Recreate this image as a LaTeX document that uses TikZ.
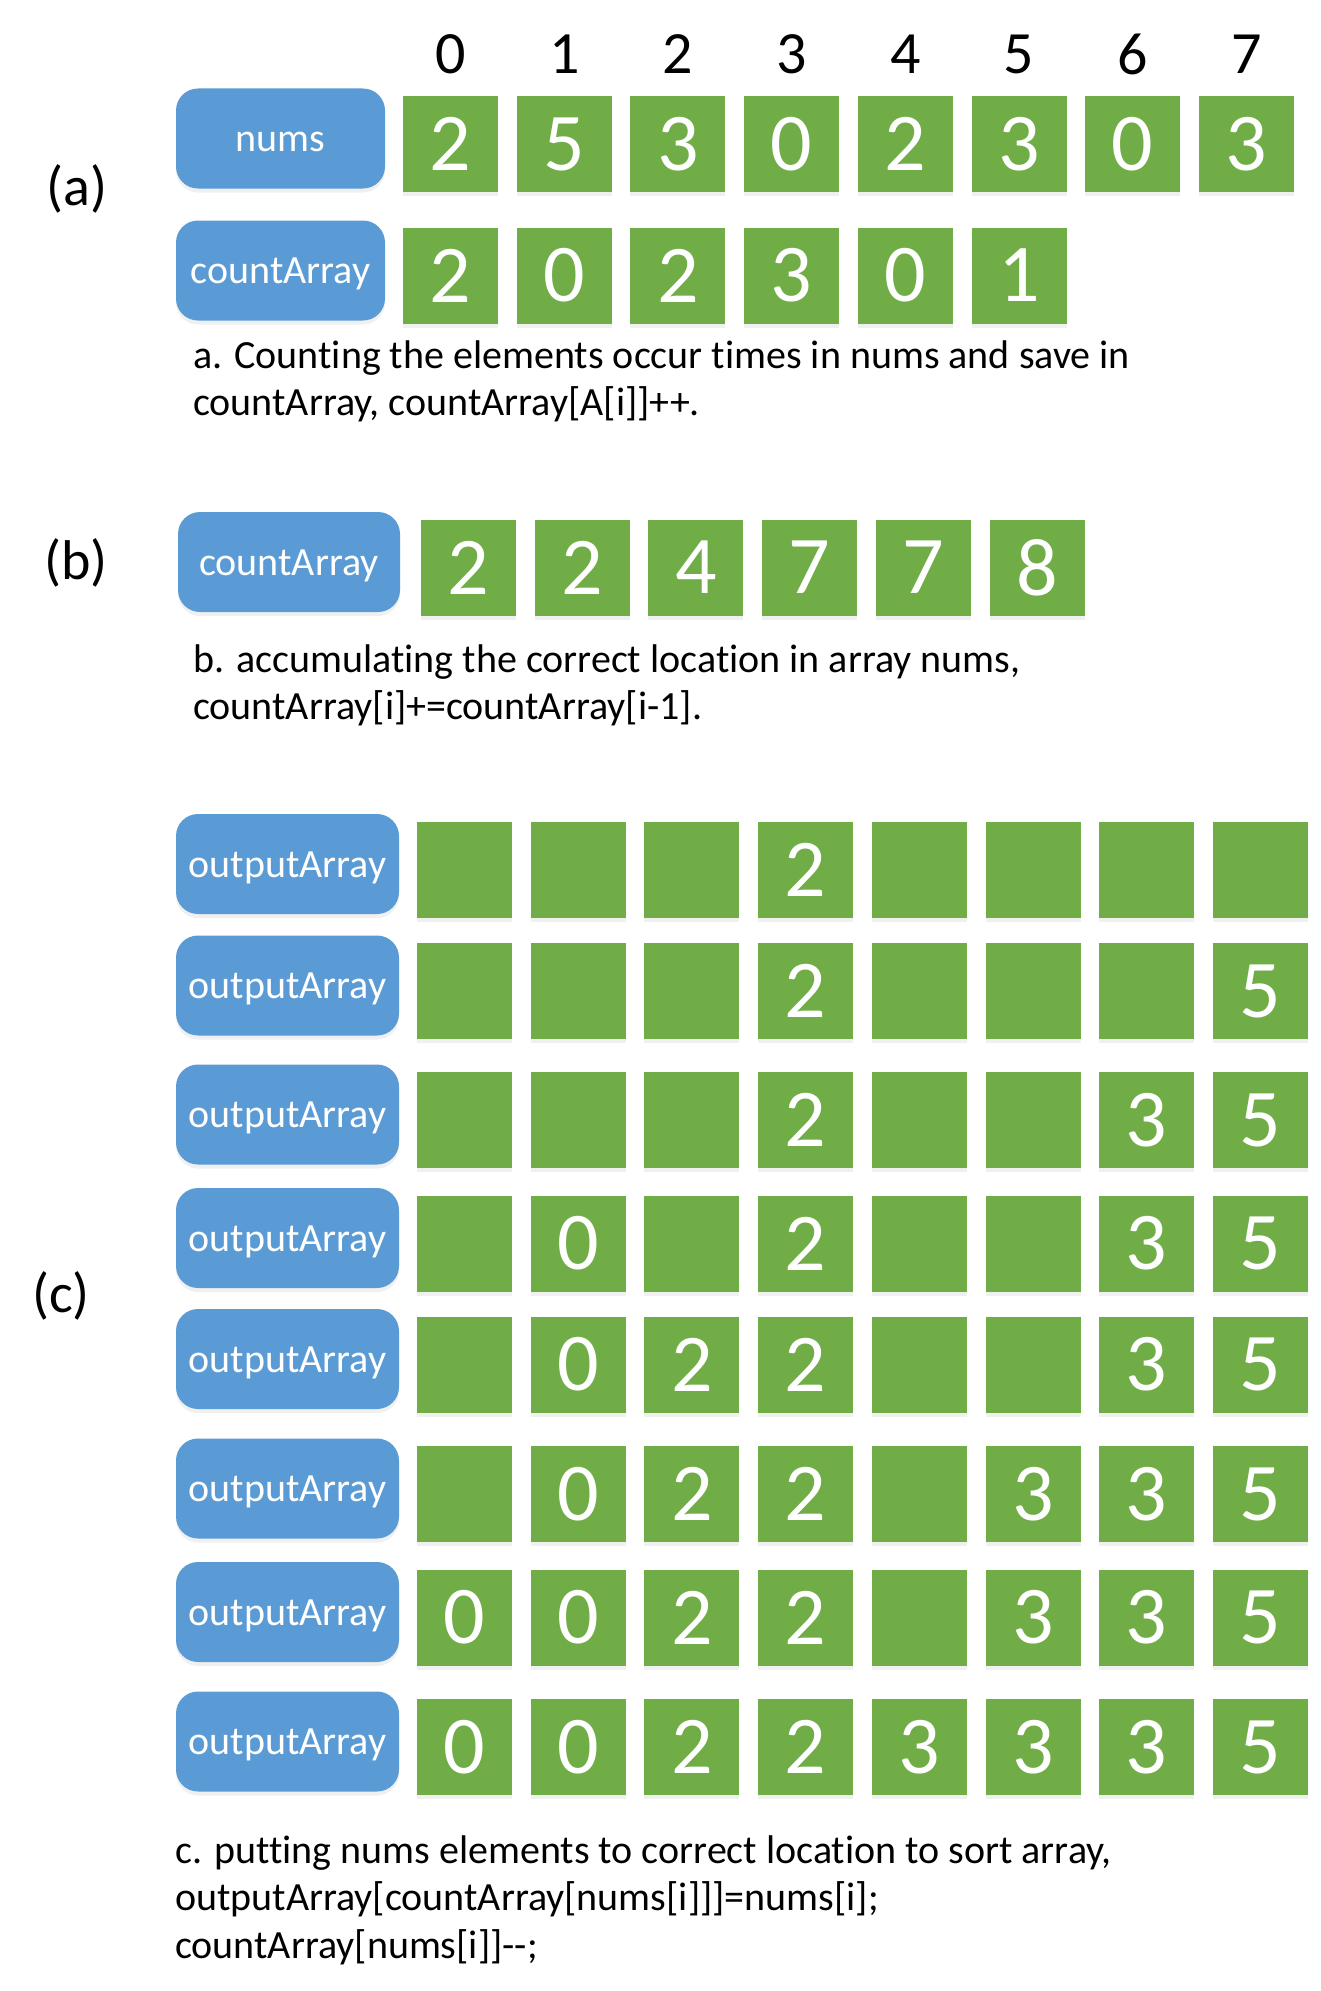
\documentclass[tikz,border=0pt]{standalone}
\usepackage{fontspec}
\setmainfont[Ligatures={TeX,NoCommon}]{Carlito}
\usetikzlibrary{shadows}

\definecolor{cellgreen}{HTML}{70AD47}
\definecolor{tagblue}{HTML}{5B9BD5}

% empty cells are written as x
\newcommand{\cellval}[1]{\if x#1\else#1\fi}

\tikzset{
    cell/.style={fill=cellgreen, minimum width=95pt, minimum height=96pt, inner sep=0pt,
        text=white, font=\fontsize{82}{82}\selectfont,
        drop shadow={opacity=0.12, shadow xshift=0pt, shadow yshift=-4pt}},
    tag/.style={fill=tagblue, rounded corners=22pt, minimum height=100pt, inner sep=0pt,
        text=white, text height=26pt, text depth=0pt, font=\fontsize{40}{48}\selectfont,
        drop shadow={opacity=0.12, shadow xshift=0pt, shadow yshift=-4pt}},
    note/.style={anchor=base west, inner sep=0pt, font=\fontsize{40}{48}\selectfont},
    part/.style={font=\fontsize{56}{60}\selectfont},
    index/.style={font=\fontsize{60}{60}\selectfont}
}

\begin{document}
\begin{tikzpicture}[x=1pt, y=-1pt]

    \useasboundingbox (0,0) rectangle (1321,1991);

    % (a) counting
    \node[part] (partA) at (77,189) {(a)};
    \node[tag, minimum width=209pt] (numsTag) at (280.5,138.5) {nums};
    \node[tag, minimum width=209pt] (countTagA) at (280.5,270.5) {countArray};

    \foreach \v [count=\i from 0] in {2,5,3,0,2,3,0,3} {
        \node[index] (idx-\i) at (450.5+113.7*\i, 54) {\i};
        \node[cell] (nums-\i) at (450.5+113.7*\i, 144) {\v};
    }
    \foreach \v [count=\i from 0] in {2,0,2,3,0,1} {
        \node[cell] (countA-\i) at (450.5+113.7*\i, 275.5) {\v};
    }

    \node[note] (noteA1) at (193,368) {a. Counting the elements occur times in nums and save in};
    \node[note] (noteA2) at (193,415) {countArray, countArray[A[i]]++.};

    % (b) accumulating
    \node[part] (partB) at (76,563) {(b)};
    \node[tag, minimum width=222pt] (countTagB) at (289,562) {countArray};

    \foreach \v [count=\i from 0] in {2,2,4,7,7,8} {
        \node[cell] (countB-\i) at (468.5+113.7*\i, 567.5) {\v};
    }

    \node[note] (noteB1) at (193,672) {b. accumulating the correct location in array nums,};
    \node[note] (noteB2) at (193,719) {countArray[i]+=countArray[i-1].};

    % (c) putting elements in place, one row per step
    \node[part] (partC) at (61,1296) {(c)};

    \foreach \y/\row [count=\r] in {
        869.5/{x,x,x,2,x,x,x,x},
        991/{x,x,x,2,x,x,x,5},
        1120/{x,x,x,2,x,x,3,5},
        1243.5/{x,0,x,2,x,x,3,5},
        1364.5/{x,0,2,2,x,x,3,5},
        1494/{x,0,2,2,x,3,3,5},
        1617.5/{0,0,2,2,x,3,3,5},
        1747/{0,0,2,2,3,3,3,5}} {
        \node[tag, minimum width=223pt] (outTag-\r) at (287.5, \y-5.5) {outputArray};
        \foreach \v [count=\i from 0] in \row {
            \node[cell] (out-\r-\i) at (464.5+113.7*\i, \y) {\cellval{\v}};
        }
    }

    \node[note] (noteC1) at (175,1863) {c. putting nums elements to correct location to sort array,};
    \node[note] (noteC2) at (175,1910) {outputArray[countArray[nums[i]]]=nums[i];};
    \node[note] (noteC3) at (175,1958) {countArray[nums[i]]-{}-;};

\end{tikzpicture}
\end{document}
